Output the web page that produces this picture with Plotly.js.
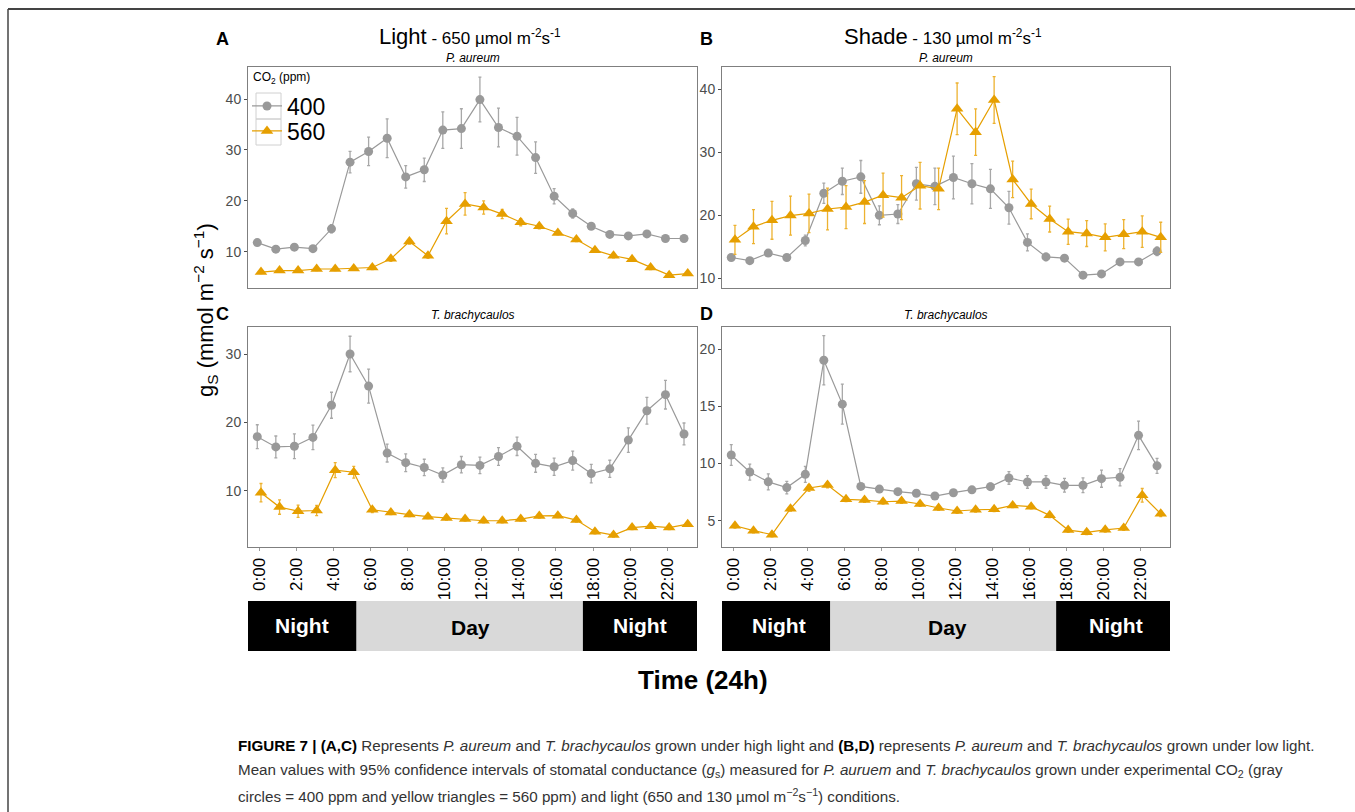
<!DOCTYPE html>
<html>
<head>
<meta charset="utf-8">
<script src="https://cdn.plot.ly/plotly-3.0.1.min.js"></script>
<style>html,body{margin:0;padding:0;background:#fff;} #chart{width:1355px;height:812px;}</style>
</head>
<body>
<div id="chart"></div>
<script>
// ---------- DATA ----------
const hours = [0,1,2,3,4,5,6,7,8,9,10,11,12,13,14,15,16,17,18,19,20,21,22,23];
const tickHours = [0,2,4,6,8,10,12,14,16,18,20,22];
const tickLabels = ["0:00","2:00","4:00","6:00","8:00","10:00","12:00","14:00","16:00","18:00","20:00","22:00"];
const co2Levels = ["400","560"];

// Panel A: P. aureum, Light
const A400 = [11.8,10.5,10.9,10.6,14.5,27.6,29.7,32.3,24.7,26.1,33.9,34.2,39.9,34.4,32.7,28.5,20.9,17.5,15.0,13.4,13.1,13.5,12.6,12.6];
const A400err = [0.5,0.4,0.4,0.4,0.8,2.1,2.8,3.8,2.2,2.3,3.6,3.9,4.4,3.8,3.7,3.1,1.5,0.9,0.4,0.4,0.3,0.4,0.4,0.4];
const A560 = [6.0,6.3,6.3,6.6,6.6,6.7,6.9,8.6,12.0,9.2,16.0,19.4,18.7,17.4,15.8,15.0,13.7,12.4,10.3,9.2,8.5,6.9,5.4,5.7];
const A560err = [0.3,0.3,0.3,0.3,0.3,0.3,0.4,0.5,0.5,0.5,2.5,2.2,1.3,0.9,0.7,0.5,0.4,0.4,0.4,0.4,0.4,0.4,0.3,0.3];

// Panel B: P. aureum, Shade
const B400 = [13.3,12.8,14.0,13.3,16.0,23.5,25.4,26.1,20.0,20.2,25.0,24.6,26.0,25.0,24.2,21.2,15.7,13.4,13.2,10.5,10.7,12.6,12.6,14.3];
const B400err = [0.4,0.4,0.4,0.4,0.85,1.6,2.1,2.6,1.5,1.5,2.6,2.9,3.4,3.2,3.1,2.6,1.35,0.6,0.5,0.4,0.4,0.4,0.4,0.7];
const B560 = [16.1,18.2,19.2,19.95,20.3,21.0,21.3,22.1,23.2,22.8,24.7,24.2,36.9,33.2,38.3,25.7,21.8,19.4,17.4,17.1,16.5,17.0,17.4,16.5];
const B560err = [2.3,2.7,3.0,3.1,3.05,3.3,3.4,3.4,3.5,3.5,3.7,3.3,4.1,3.7,3.7,2.9,2.35,2.05,2.0,2.05,2.15,2.3,2.5,2.4];

// Panel C: T. brachycaulos, Light
const C400 = [17.9,16.4,16.5,17.8,22.5,30.0,25.3,15.5,14.1,13.4,12.3,13.8,13.7,15.0,16.5,14.0,13.5,14.4,12.5,13.2,17.4,21.7,24.05,18.3];
const C400err = [1.75,1.6,1.8,1.8,1.9,2.6,2.5,1.3,1.3,1.2,1.05,1.2,1.2,1.3,1.35,1.3,1.25,1.4,1.35,1.25,1.8,1.95,2.1,1.6];
const C560 = [9.7,7.6,7.0,7.1,13.0,12.7,7.2,6.8,6.5,6.2,6.0,5.85,5.6,5.6,5.85,6.3,6.35,5.7,4.0,3.5,4.6,4.8,4.6,5.1];
const C560err = [1.35,1.05,0.9,0.75,1.1,0.85,0.4,0.3,0.3,0.3,0.3,0.3,0.3,0.3,0.3,0.3,0.3,0.3,0.3,0.3,0.3,0.3,0.3,0.3];

// Panel D: T. brachycaulos, Shade
const D400 = [10.75,9.26,8.4,7.9,9.06,19.04,15.2,8.0,7.77,7.54,7.4,7.16,7.45,7.7,7.98,8.74,8.39,8.39,8.1,8.1,8.68,8.8,12.47,9.8];
const D400err = [0.9,0.7,0.7,0.55,0.7,2.15,1.75,0.2,0.25,0.25,0.25,0.25,0.25,0.25,0.3,0.55,0.55,0.55,0.6,0.65,0.75,0.75,1.25,0.65];
const D560 = [4.56,4.13,3.78,6.05,7.86,8.12,6.87,6.81,6.66,6.72,6.46,6.11,5.85,5.96,6.0,6.34,6.23,5.47,4.18,3.98,4.2,4.36,7.22,5.61];
const D560err = [0.2,0.2,0.2,0.2,0.3,0.25,0.2,0.2,0.2,0.2,0.2,0.2,0.2,0.2,0.2,0.2,0.2,0.2,0.2,0.2,0.2,0.2,0.6,0.25];

// ---------- STYLE ----------
const W = 1355, H = 812;
const px = v => v / W;
const py = v => 1 - v / H;
const GRAY = '#999999', ORANGE = '#E69F00';
const FONT = 'Liberation Sans, Arial, sans-serif';
const dodge = 0.1;

const panels = [
  {id:'', s400:A400, e400:A400err, s560:A560, e560:A560err, legend:true},
  {id:'2', s400:B400, e400:B400err, s560:B560, e560:B560err, legend:false},
  {id:'3', s400:C400, e400:C400err, s560:C560, e560:C560err, legend:false},
  {id:'4', s400:D400, e400:D400err, s560:D560, e560:D560err, legend:false}
];

const traces = [];
panels.forEach(p => {
  traces.push({
    type:'scatter', mode:'lines+markers', name:co2Levels[0], legend:'legend', showlegend:p.legend,
    x: hours.map(h => h - dodge), y: p.s400,
    xaxis:'x'+p.id, yaxis:'y'+p.id,
    line:{color:GRAY, width:1.2},
    marker:{symbol:'circle', size:9, color:GRAY},
    error_y:{type:'data', array:p.e400, visible:true, color:'#A8A8A8', thickness:1.3, width:1.5}
  });
  traces.push({
    type:'scatter', mode:'lines+markers', name:co2Levels[1], legend:'legend2', showlegend:p.legend,
    x: hours.map(h => h + dodge), y: p.s560,
    xaxis:'x'+p.id, yaxis:'y'+p.id,
    line:{color:ORANGE, width:1.2},
    marker:{symbol:'triangle-up', size:11, color:ORANGE},
    error_y:{type:'data', array:p.e560, visible:true, color:'#EDB230', thickness:1.3, width:1.5}
  });
});

const xr = [-0.6, 23.6];
function xax(dom, labels, anchor){
  return {
    domain:[px(dom[0]), px(dom[1])], range:xr, anchor:anchor, showgrid:false, zeroline:false,
    showline:true, mirror:true, linecolor:'#7F7F7F', linewidth:1,
    tickmode:'array', tickvals:tickHours, ticktext:tickLabels,
    showticklabels:labels, ticks: labels ? 'outside' : '', ticklen:3, tickcolor:'#9A9A9A',
    tickangle:-90, tickfont:{family:FONT, size:17, color:'#000'}, fixedrange:true
  };
}
function yax(dom, range, tv, anchor){
  return {
    domain:[py(dom[1]), py(dom[0])], range:range, anchor:anchor, showgrid:false, zeroline:false,
    showline:true, mirror:true, linecolor:'#7F7F7F', linewidth:1,
    tickmode:'array', tickvals:tv, ticks:'outside', ticklen:3, tickcolor:'#4D4D4D',
    tickfont:{family:FONT, size:14, color:'#4D4D4D'}, fixedrange:true
  };
}

const topY = [67, 288], botY = [327, 547];
const leftX = [248, 697], rightX = [722, 1170];

const dayStart = 5.25, dayEnd = 17.45;
const shapes = [
  {type:'line', xref:'paper', yref:'paper', x0:px(8), x1:1, y0:py(9), y1:py(9), line:{color:'#444', width:2}},
  {type:'line', xref:'paper', yref:'paper', x0:px(8), x1:px(8), y0:py(9), y1:0, line:{color:'#444', width:1.5}},
  // legend key boxes
  {type:'rect', xref:'paper', yref:'paper', x0:px(256), x1:px(281), y0:py(119), y1:py(93), line:{color:'#D0D0D0', width:1}, fillcolor:'rgba(0,0,0,0)', layer:'below'},
  {type:'rect', xref:'paper', yref:'paper', x0:px(256), x1:px(281), y0:py(145), y1:py(119), line:{color:'#D0D0D0', width:1}, fillcolor:'rgba(0,0,0,0)', layer:'below'}
];
['x3', 'x4'].forEach(xa => {
  const y0 = py(651), y1 = py(601);
  shapes.push({type:'rect', xref:xa, yref:'paper', x0:xr[0], x1:dayStart, y0:y0, y1:y1, fillcolor:'#000', line:{width:0}});
  shapes.push({type:'rect', xref:xa, yref:'paper', x0:dayStart, x1:dayEnd, y0:y0, y1:y1, fillcolor:'#D9D9D9', line:{width:0}});
  shapes.push({type:'rect', xref:xa, yref:'paper', x0:dayEnd, x1:xr[1], y0:y0, y1:y1, fillcolor:'#000', line:{width:0}});
});

const ann = [];
function txt(x, y, text, size, opts){
  ann.push(Object.assign({xref:'paper', yref:'paper', x:px(x), y:py(y), text:text, showarrow:false,
    xanchor:'center', yanchor:'middle', font:{family:FONT, size:size, color:'#000'}}, opts||{}));
}
txt(222, 39, '<b>A</b>', 18);
txt(706, 39, '<b>B</b>', 18);
txt(222, 314, '<b>C</b>', 18);
txt(706, 314, '<b>D</b>', 18);
txt(470, 36, '<span style="font-size:22px">Light</span> - 650 µmol m<sup>-2</sup>s<sup>-1</sup>', 17);
txt(943, 36, '<span style="font-size:22px">Shade</span> - 130 µmol m<sup>-2</sup>s<sup>-1</sup>', 17);
txt(473, 58, '<i>P. aureum</i>', 12);
txt(946, 58, '<i>P. aureum</i>', 12);
txt(473, 315, '<i>T. brachycaulos</i>', 12);
txt(946, 315, '<i>T. brachycaulos</i>', 12);
txt(251, 78, 'CO<sub>2</sub> (ppm)', 12, {xanchor:'left'});
txt(206, 310, 'g<sub>S</sub> (mmol m<sup>−2</sup> s<sup>−1</sup>)', 22, {textangle:-90});
txt(302, 625, '<b>Night</b>', 21, {font:{family:FONT, size:21, color:'#fff'}});
txt(470, 627, '<b>Day</b>', 21);
txt(640, 625, '<b>Night</b>', 21, {font:{family:FONT, size:21, color:'#fff'}});
txt(779, 625, '<b>Night</b>', 21, {font:{family:FONT, size:21, color:'#fff'}});
txt(947, 627, '<b>Day</b>', 21);
txt(1116, 625, '<b>Night</b>', 21, {font:{family:FONT, size:21, color:'#fff'}});
txt(703, 680, '<b>Time (24h)</b>', 26);
const capFont = {family:FONT, size:15.2, color:'#333'};
const capOpts = {xanchor:'left', align:'left', font:capFont};
txt(236, 745, '<b style="color:#000">FIGURE 7 | (A,C)</b> Represents <i>P. aureum</i> and <i>T. brachycaulos</i> grown under high light and <b style="color:#000">(B,D)</b> represents <i>P. aureum</i> and <i>T. brachycaulos</i> grown under low light.', 15, capOpts);
txt(236, 770, 'Mean values with 95% confidence intervals of stomatal conductance (<i>g</i><sub>s</sub>) measured for <i>P. auruem</i> and <i>T. brachycaulos</i> grown under experimental CO<sub>2</sub> (gray', 15, capOpts);
txt(236, 795, 'circles = 400 ppm and yellow triangles = 560 ppm) and light (650 and 130 µmol m<sup>−2</sup>s<sup>−1</sup>) conditions.', 15, capOpts);

const legBase = {xanchor:'left', yanchor:'middle', bgcolor:'rgba(0,0,0,0)',
  font:{family:FONT, size:23, color:'#000'}, itemwidth:30, borderwidth:0};
const layout = {
  width:W, height:H, margin:{l:0, r:0, t:0, b:0},
  paper_bgcolor:'#fff', plot_bgcolor:'#fff',
  showlegend:true,
  legend: Object.assign({x:px(247), y:py(106)}, legBase),
  legend2: Object.assign({x:px(247), y:py(131)}, legBase),
  xaxis: xax(leftX, false, 'y'), yaxis: yax(topY, [2.87, 46.3], [10,20,30,40], 'x'),
  xaxis2: xax(rightX, false, 'y2'), yaxis2: yax(topY, [8.46, 43.54], [10,20,30,40], 'x2'),
  xaxis3: xax(leftX, true, 'y3'), yaxis3: yax(botY, [1.76, 33.95], [10,20,30], 'x3'),
  xaxis4: xax(rightX, true, 'y4'), yaxis4: yax(botY, [2.70, 21.95], [5,10,15,20], 'x4'),
  shapes: shapes, annotations: ann
};

Plotly.newPlot('chart', traces, layout, {displayModeBar:false, staticPlot:true});
</script>
</body>
</html>
